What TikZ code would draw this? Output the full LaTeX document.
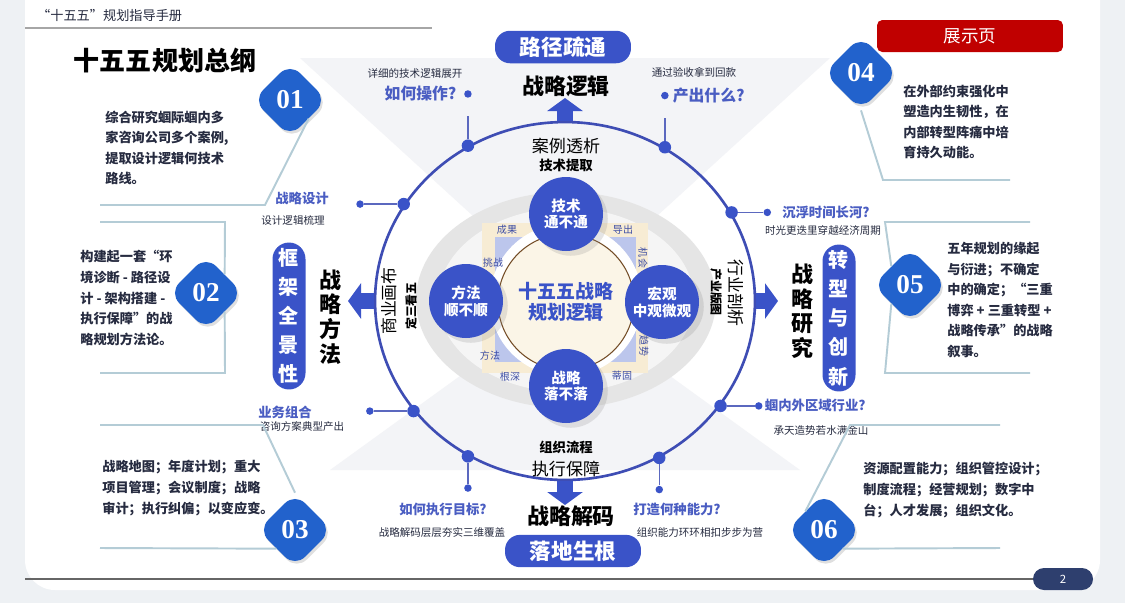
\documentclass[tikz,border=0pt]{standalone}
\usepackage{fontspec}
\setmainfont{Noto Sans CJK SC}
\newfontfamily\numfont{Liberation Serif}
\usetikzlibrary{arrows.meta, positioning, shapes.geometric, shadows}

\definecolor{pagegray}{HTML}{EEF1F4}
\definecolor{bowgray}{HTML}{F3F4F7}
\definecolor{ringblue}{HTML}{3E4DB4}
\definecolor{royal}{HTML}{3A53C8}
\definecolor{diablue}{HTML}{2262CC}
\definecolor{qblue}{HTML}{4A5DC2}
\definecolor{navytext}{HTML}{262B40}
\definecolor{framecol}{HTML}{B4CCD6}
\definecolor{showred}{HTML}{C00000}
\definecolor{cream}{HTML}{F7ECD4}
\definecolor{lilac}{HTML}{BCC6EC}
\definecolor{pagenavy}{HTML}{2E3F6E}

\tikzset{
  numdia/.style={diamond, aspect=1, fill=diablue, rounded corners=8pt, minimum size=1.48cm, inner sep=0pt,
    text=white, font=\numfont\bfseries\fontsize{15.5}{16}\selectfont,
    drop shadow={opacity=0.25, shadow xshift=1pt, shadow yshift=-1.5pt}},
  bcirc/.style={circle, fill=royal, minimum size=1.48cm, inner sep=0pt, text=white, align=center,
    font=\bfseries\fontsize{8.3}{9.6}\selectfont, drop shadow={opacity=0.2}},
  hpill/.style={fill=royal, rounded corners=0.3cm, minimum width=2.72cm, minimum height=0.6cm,
    text=white, font=\bfseries\fontsize{12.3}{13}\selectfont},
  vpill/.style={fill=royal, rounded corners=0.33cm, minimum width=0.66cm, minimum height=2.94cm,
    inner sep=0pt, text=white, align=center, font=\bfseries\fontsize{11.4}{16.6}\selectfont},
  vhead/.style={align=center, inner sep=0pt, font=\bfseries\fontsize{12.5}{14}\selectfont},
  rdot/.style={circle, fill=royal, minimum size=0.25cm, inner sep=0pt},
  sdot/.style={circle, fill=royal, minimum size=0.15cm, inner sep=0pt},
  qtext/.style={text=qblue, inner sep=0pt, font=\bfseries\fontsize{7.6}{8}\selectfont},
  subtext/.style={text=navytext, inner sep=0pt, font=\fontsize{6}{7}\selectfont},
  slab/.style={text=qblue!85!black, inner sep=0pt, font=\fontsize{5.7}{6}\selectfont},
  body/.style={align=left, text=navytext, inner sep=0pt, font=\bfseries\fontsize{7.5}{11.7}\selectfont},
  bigarrow/.style={draw=royal, line width=0.32cm, -{Triangle[width=0.7cm, length=0.26cm]}},
  frameline/.style={draw=framecol, line width=1.1pt},
  twig/.style={draw=ringblue!85, line width=0.8pt}
}

\begin{document}
\begin{tikzpicture}[x=0.02cm, y=-0.02cm]
    \useasboundingbox (0,0) rectangle (1125,603);
    \fill[pagegray] (0,0) rectangle (1125,603);
    \fill[white, rounded corners=0.6cm] (25,-40) rectangle (1100,590);
    \fill[bowgray] (565,300) -- (300,58) -- (830,58) -- cycle;
    \fill[bowgray] (565,300) -- (330,470) -- (800,470) -- cycle;

    \node [anchor=west, text=navytext, font=\fontsize{7.5}{8}\selectfont](hdr) at (31,15) {“十五五”规划指导手册};
    \draw [gray!70, line width=0.8pt] (25,28) -- (432,28);
    \node [font=\bfseries\fontsize{14.8}{16}\selectfont](title) at (165,60) {十五五规划总纲};
    \node [fill=showred, rounded corners=3pt, minimum width=3.72cm, minimum height=0.64cm, text=white,
        font=\fontsize{10}{11}\selectfont](show) at (970,36) {展示页};

    % center
    \fill [gray!20] (566,300) ellipse [x radius=150, y radius=108];
    \fill [gray!8] (566,300) ellipse [x radius=128, y radius=92];
    \fill [cream] (482,223) rectangle (648,373);
    \fill [lilac] (495,237) rectangle (636,362);
    \node [circle, fill=white, minimum size=3.05cm](halo) at (566,300) {};
    \node [circle, fill=cream!55, draw=brown!60!black, line width=0.6pt, minimum size=2.72cm, text=royal,
        align=center, font=\bfseries\fontsize{10.8}{12}\selectfont](core) at (566,302) {十五五战略\\规划逻辑};
    \node [slab](l1) at (507,230) {成果};
    \node [slab](l2) at (623,230) {导出};
    \node [slab, rotate=-90](l3) at (643,258) {机会};
    \node [slab, rotate=-90](l4) at (644,346) {趋势};
    \node [slab](l5) at (622,376) {蒂固};
    \node [slab](l6) at (510,377) {根深};
    \node [slab](l7) at (490,356) {方法};
    \node [slab](l8) at (493,263) {挑战};
    \node [bcirc](tcirc) at (566,214) {技术\\通不通};
    \node [bcirc](lcirc) at (466,301) {方法\\顺不顺};
    \node [bcirc](rcirc) at (662,302) {宏观\\中观微观};
    \node [bcirc](bcirc) at (566,386) {战略\\落不落};

    % ring
    \node [ellipse, draw=ringblue, line width=1.5pt, minimum width=7.6cm, minimum height=7.16cm, inner sep=0pt](ring) at (565,301) {};
    \node [font=\fontsize{9.7}{10}\selectfont](case) at (566,146) {案例透析};
    \node [font=\bfseries\fontsize{7.6}{8}\selectfont](tech) at (566,165) {技术提取};
    \node [font=\bfseries\fontsize{7.6}{8}\selectfont](org) at (566,447) {组织流程};
    \node [font=\fontsize{9.7}{10}\selectfont](exec) at (566,469) {执行保障};
    \node [rotate=90, font=\fontsize{9.6}{10}\selectfont](canvas) at (389,301) {商业画布};
    \node [rotate=90, font=\bfseries\fontsize{6.8}{7}\selectfont](three) at (411,306) {定三看五};
    \node [rotate=-90, font=\fontsize{9.6}{10}\selectfont](indus) at (736,293) {行业剖析};
    \node [rotate=-90, font=\bfseries\fontsize{6.8}{7}\selectfont](map) at (716,292) {产业版图};

    \node [rdot](d1) at (ring.122.5) {};
    \node [rdot](d2) at (ring.57.8) {};
    \node [rdot](d3) at (ring.149.5) {};
    \node [rdot](d4) at (ring.28.6) {};
    \node [rdot](d5) at (ring.216) {};
    \node [rdot](d6) at (ring.326.2) {};
    \node [rdot](d7) at (ring.238) {};
    \node [rdot](d8) at (ring.301.4) {};
    \coordinate [above=0.46cm of d1](e1);
    \coordinate [above=0.46cm of d2](e2);
    \node [sdot, above=0.36cm of e1](s1) {};
    \node [sdot, above=0.36cm of e2](s2) {};
    \node [sdot, left=0.66cm of d3](s3) {};
    \node [sdot, right=0.5cm of d4](s4) {};
    \node [sdot, left=0.66cm of d5](s5) {};
    \node [sdot, right=0.55cm of d6](s6) {};
    \node [sdot, below=0.42cm of d7](s7) {};
    \node [sdot, below=0.42cm of d8](s8) {};
    \draw [twig] (d1) -- (e1);
    \draw [twig] (d2) -- (e2);
    \draw [twig] (d3) -- (s3);
    \draw [twig] (d4) -- (s4);
    \draw [twig] (d5) -- (s5);
    \draw [twig] (d6) -- (s6);
    \draw [twig] (d7) -- (s7);
    \draw [twig] (d8) -- (s8);

    \node [qtext, left=4pt of s1, font=\bfseries\fontsize{9}{10}\selectfont](q1) {如何操作?};
    \node [subtext](a1) at (415,73) {详细的技术逻辑展开};
    \node [qtext, right=2pt of s2, font=\bfseries\fontsize{9}{10}\selectfont](q2) {产出什么?};
    \node [subtext](a2) at (694,72) {通过验收拿到回款};
    \node [qtext](q3) at (302,198) {战略设计};
    \node [subtext](a3) at (293,220) {设计逻辑梳理};
    \node [qtext, right=6pt of s4](q4) {沉浮时间长河?};
    \node [subtext](a4) at (823,230) {时光更迭里穿越经济周期};
    \node [qtext](q5) at (285,412) {业务组合};
    \node [subtext](a5) at (302,427) {咨询方案典型产出};
    \node [qtext, right=1pt of s6](q6) {蝈内外区域行业?};
    \node [subtext](a6) at (821,430) {承天造势若水满金山};
    \node [qtext](q7) at (443,509) {如何执行目标?};
    \node [subtext](a7) at (442,532) {战略解码层层夯实三维覆盖};
    \node [qtext](q8) at (677,509) {打造何种能力?};
    \node [subtext](a8) at (700,532) {组织能力环环相扣步步为营};

    % four directions
    \coordinate (tipN) at (565,98);
    \coordinate (tipS) at (565,505);
    \coordinate (tipW) at (348,301);
    \coordinate (tipE) at (778,301);
    \draw [bigarrow] (ring.north) -- (tipN);
    \draw [bigarrow] (ring.south) -- (tipS);
    \draw [bigarrow] (ring.west) -- (tipW);
    \draw [bigarrow] (ring.east) -- (tipE);
    \node [font=\bfseries\fontsize{12.5}{13}\selectfont](logic) at (566,86) {战略逻辑};
    \node [hpill](route) at (563,47) {路径疏通};
    \node [font=\bfseries\fontsize{12.5}{13}\selectfont](decode) at (571,516) {战略解码};
    \node [hpill](root) at (573,551) {落地生根};
    \node [vhead](method) at (330,317) {战\\略\\方\\法};
    \node [vpill](frame) at (289,316) {框\\架\\全\\景\\性};
    \node [vhead](study) at (802,311) {战\\略\\研\\究};
    \node [vpill](trans) at (839,318) {转\\型\\与\\创\\新};

    % six cards
    \node [numdia](n01) at (290,100) {01};
    \node [numdia](n02) at (206,293) {02};
    \node [numdia](n03) at (295,530) {03};
    \node [numdia](n04) at (861,73) {04};
    \node [numdia](n05) at (910,285) {05};
    \node [numdia](n06) at (824,530) {06};
    \draw [frameline] (100,205) -- (265,205) -- (n01.south east);
    \draw [frameline] (100,222) -- (225,222) -- (n02.north east);
    \draw [frameline] (n02.south east) -- (225,373) -- (100,373);
    \draw [frameline] (100,425) -- (263,425) -- (n03.north);
    \draw [frameline] (100,548) -- (n03.south west);
    \draw [frameline] (n04.south) -- (883,180) -- (1010,180);
    \draw [frameline] (1030,222) -- (885,222) -- (n05.north west);
    \draw [frameline] (n05.south west) -- (885,373) -- (1030,373);
    \draw [frameline] (1000,425) -- (850,425) -- (n06.north west);
    \draw [frameline] (n06.south east) -- (1000,548);

    \node [body, anchor=west](t01) at (105,148) {综合研究蝈际蝈内多\\家咨询公司多个案例,\\提取设计逻辑何技术\\路线。};
    \node [body, anchor=west](t02) at (80,298) {构建起一套“环\\境诊断 - 路径设\\计 - 架构搭建 -\\执行保障”的战\\略规划方法论。};
    \node [body, anchor=west](t03) at (102,488) {战略地图；年度计划；重大\\项目管理；会议制度；战略\\审计；执行纠偏；以变应变。};
    \node [body, anchor=west](t04) at (903,122) {在外部约束强化中\\塑造内生韧性，在\\内部转型阵痛中培\\育持久动能。};
    \node [body, anchor=west](t05) at (947,300) {五年规划的缘起\\与衍进；不确定\\中的确定；“三重\\博弈 + 三重转型 +\\战略传承”的战略\\叙事。};
    \node [body, anchor=west](t06) at (863,490) {资源配置能力；组织管控设计；\\制度流程；经营规划；数字中\\台；人才发展；组织文化。};

    % footer
    \draw [gray!80!black, line width=0.8pt] (25,579) -- (1040,579);
    \node [fill=pagenavy, rounded corners=0.22cm, minimum width=1.2cm, minimum height=0.44cm, text=white,
        font=\fontsize{6.5}{7}\selectfont](pnum) at (1063,579) {2};
\end{tikzpicture}
\end{document}
